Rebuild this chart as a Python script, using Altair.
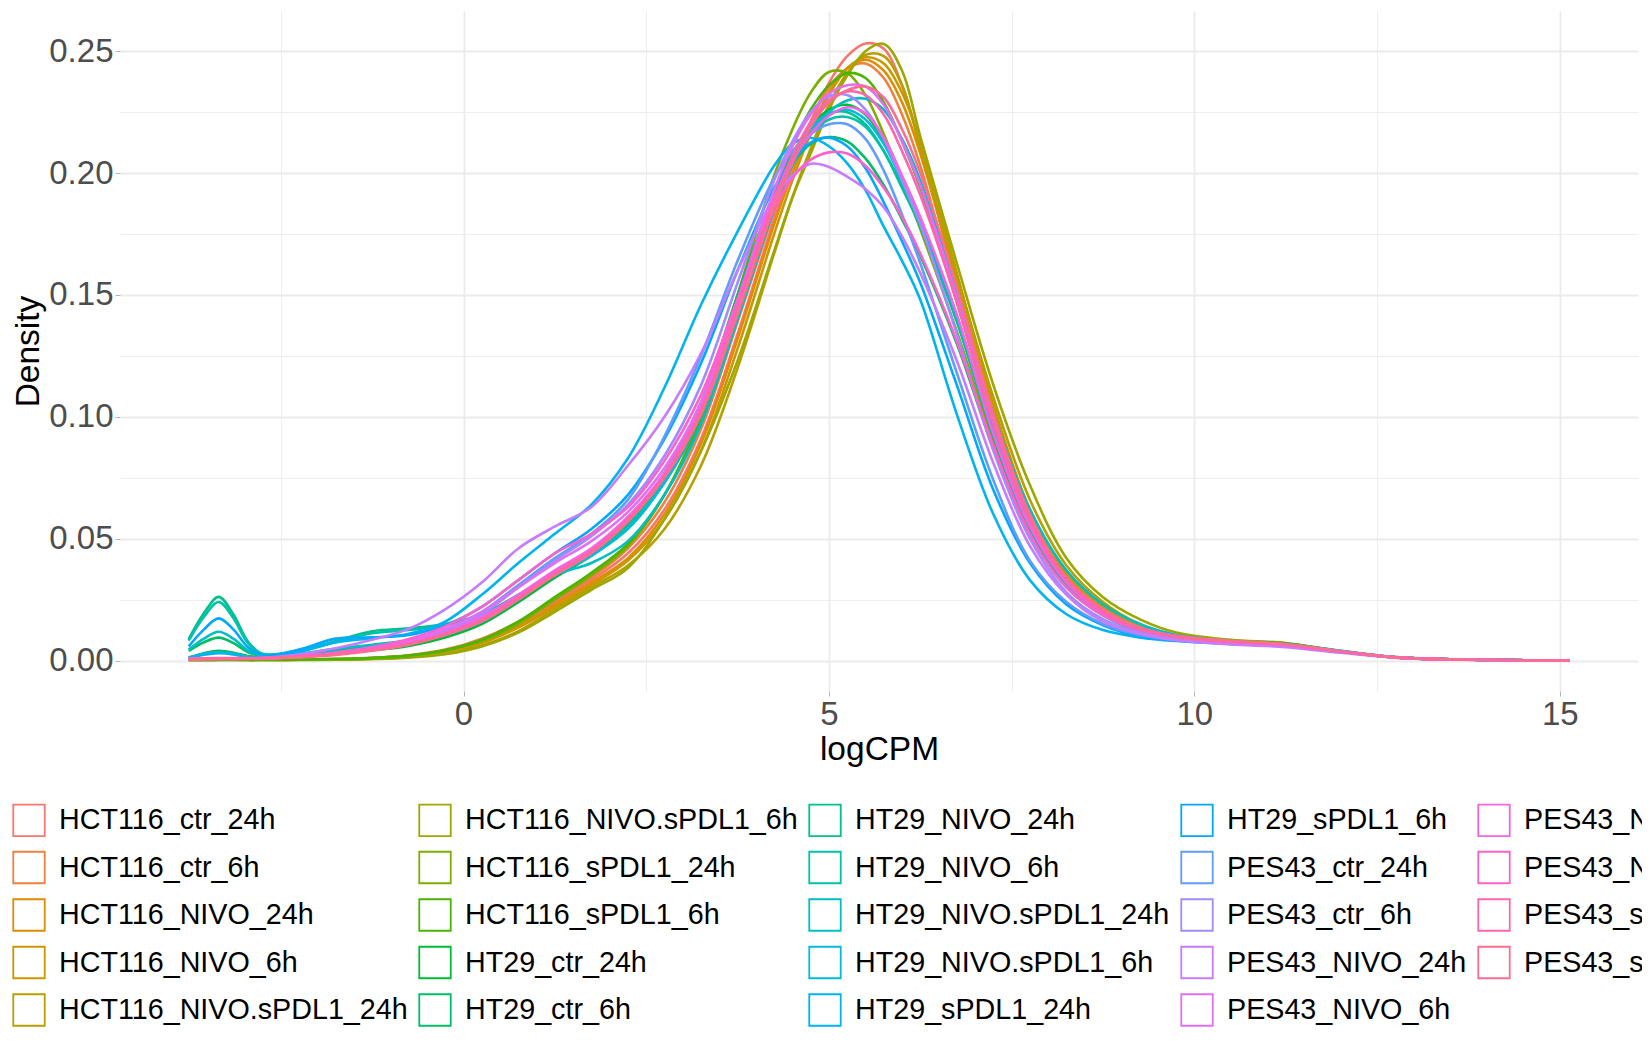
import math
import altair as alt
import pandas as pd

# ---------------- data ----------------
LOGCPM = [-3.76, -3.55, -3.35, -3.15, -2.95, -2.75, -2.25, -1.75, -1.25, -0.75,
          -0.25, 0.25, 0.75, 1.25, 1.75, 2.25, 2.75, 3.25, 3.75, 4.25,
          4.5, 4.75, 5.0, 5.25, 5.5, 5.75, 6.0, 6.25, 6.75, 7.25,
          7.75, 8.25, 8.75, 9.25, 9.75, 10.5, 11.25, 12.0, 12.75, 13.5, 15.13]

SAMPLES = ["HCT116_ctr_24h", "HCT116_ctr_6h", "HCT116_NIVO_24h", "HCT116_NIVO_6h",
           "HCT116_NIVO.sPDL1_24h", "HCT116_NIVO.sPDL1_6h", "HCT116_sPDL1_24h", "HCT116_sPDL1_6h",
           "HT29_ctr_24h", "HT29_ctr_6h", "HT29_NIVO_24h", "HT29_NIVO_6h",
           "HT29_NIVO.sPDL1_24h", "HT29_NIVO.sPDL1_6h", "HT29_sPDL1_24h", "HT29_sPDL1_6h",
           "PES43_ctr_24h", "PES43_ctr_6h", "PES43_NIVO_24h", "PES43_NIVO_6h",
           "PES43_NIVO.sPDL1_24h", "PES43_NIVO.sPDL1_6h", "PES43_sPDL1_24h", "PES43_sPDL1_6h"]

HCT116_ctr_24h = [0.0003, 0.0004, 0.0004, 0.0004, 0.0003, 0.0003, 0.0004, 0.0006, 0.0010, 0.0020,
                  0.0040, 0.0080, 0.0150, 0.0240, 0.0330, 0.0440, 0.0620, 0.0910, 0.1340, 0.1810,
                  0.2030, 0.2210, 0.2370, 0.2480, 0.2532, 0.2510, 0.2360, 0.2110, 0.1530, 0.1000,
                  0.0580, 0.0330, 0.0200, 0.0130, 0.0095, 0.0075, 0.0066, 0.0036, 0.0013, 0.0005, 0.0]
HCT116_ctr_6h = [0.0003, 0.0003, 0.0004, 0.0004, 0.0003, 0.0003, 0.0004, 0.0006, 0.0011, 0.0022,
                 0.0045, 0.0090, 0.0160, 0.0250, 0.0340, 0.0460, 0.0650, 0.0950, 0.1390, 0.1840,
                 0.2040, 0.2210, 0.2350, 0.2430, 0.2450, 0.2390, 0.2240, 0.2030, 0.1490, 0.0970,
                 0.0570, 0.0330, 0.0200, 0.0130, 0.0095, 0.0076, 0.0066, 0.0036, 0.0013, 0.0005, 0.0]
HCT116_NIVO_24h = [0.0002, 0.0003, 0.0003, 0.0003, 0.0003, 0.0003, 0.0003, 0.0005, 0.0009, 0.0018,
                   0.0038, 0.0075, 0.0140, 0.0230, 0.0320, 0.0420, 0.0600, 0.0890, 0.1320, 0.1790,
                   0.2000, 0.2180, 0.2330, 0.2430, 0.2465, 0.2420, 0.2290, 0.2080, 0.1550, 0.1020,
                   0.0600, 0.0350, 0.0210, 0.0135, 0.0098, 0.0078, 0.0068, 0.0037, 0.0013, 0.0005, 0.0]
HCT116_NIVO_6h = [0.0002, 0.0002, 0.0003, 0.0003, 0.0002, 0.0002, 0.0003, 0.0005, 0.0009, 0.0017,
                  0.0036, 0.0072, 0.0135, 0.0220, 0.0310, 0.0410, 0.0580, 0.0860, 0.1280, 0.1750,
                  0.1970, 0.2160, 0.2320, 0.2430, 0.2475, 0.2450, 0.2330, 0.2130, 0.1590, 0.1050,
                  0.0620, 0.0360, 0.0220, 0.0140, 0.0100, 0.0078, 0.0068, 0.0037, 0.0013, 0.0005, 0.0]
HCT116_NIVO_sPDL1_24h = [0.0002, 0.0002, 0.0002, 0.0002, 0.0002, 0.0002, 0.0003, 0.0004, 0.0007, 0.0014,
                         0.0030, 0.0062, 0.0120, 0.0210, 0.0300, 0.0390, 0.0540, 0.0800, 0.1200, 0.1670,
                         0.1900, 0.2100, 0.2280, 0.2410, 0.2485, 0.2480, 0.2360, 0.2100, 0.1580, 0.1080,
                         0.0660, 0.0390, 0.0240, 0.0150, 0.0105, 0.0080, 0.0070, 0.0038, 0.0013, 0.0005, 0.0]
HCT116_NIVO_sPDL1_6h = [0.0001, 0.0001, 0.0002, 0.0002, 0.0002, 0.0002, 0.0002, 0.0003, 0.0006, 0.0012,
                        0.0026, 0.0058, 0.0115, 0.0200, 0.0290, 0.0380, 0.0580, 0.0860, 0.1230, 0.1680,
                        0.1900, 0.2080, 0.2260, 0.2400, 0.2500, 0.2530, 0.2420, 0.2150, 0.1630, 0.1130,
                        0.0720, 0.0420, 0.0260, 0.0170, 0.0115, 0.0085, 0.0072, 0.0039, 0.0014, 0.0005, 0.0]
HCT116_sPDL1_24h = [0.0003, 0.0003, 0.0004, 0.0004, 0.0003, 0.0003, 0.0004, 0.0006, 0.0010, 0.0020,
                    0.0042, 0.0080, 0.0150, 0.0250, 0.0350, 0.0470, 0.0680, 0.1010, 0.1500, 0.1990,
                    0.2180, 0.2330, 0.2415, 0.2410, 0.2320, 0.2160, 0.1970, 0.1770, 0.1350, 0.0900,
                    0.0540, 0.0320, 0.0200, 0.0130, 0.0098, 0.0078, 0.0070, 0.0037, 0.0013, 0.0005, 0.0]
HCT116_sPDL1_6h = [0.0003, 0.0003, 0.0004, 0.0004, 0.0003, 0.0003, 0.0004, 0.0006, 0.0010, 0.0020,
                   0.0042, 0.0085, 0.0160, 0.0260, 0.0360, 0.0480, 0.0680, 0.0990, 0.1450, 0.1920,
                   0.2110, 0.2260, 0.2360, 0.2410, 0.2390, 0.2290, 0.2130, 0.1940, 0.1470, 0.0970,
                   0.0570, 0.0330, 0.0200, 0.0130, 0.0097, 0.0077, 0.0070, 0.0037, 0.0013, 0.0005, 0.0]
HT29_ctr_24h = [0.0012, 0.0030, 0.0040, 0.0032, 0.0018, 0.0012, 0.0018, 0.0030, 0.0042, 0.0060,
                0.0095, 0.0150, 0.0240, 0.0340, 0.0430, 0.0550, 0.0730, 0.1010, 0.1460, 0.1900,
                0.2070, 0.2190, 0.2260, 0.2280, 0.2240, 0.2130, 0.1970, 0.1800, 0.1400, 0.0920,
                0.0540, 0.0310, 0.0190, 0.0125, 0.0093, 0.0072, 0.0062, 0.0038, 0.0013, 0.0005, 0.0]
HT29_ctr_6h = [0.0040, 0.0075, 0.0094, 0.0072, 0.0035, 0.0018, 0.0025, 0.0042, 0.0058, 0.0075,
               0.0110, 0.0170, 0.0260, 0.0360, 0.0450, 0.0580, 0.0770, 0.1060, 0.1500, 0.1910,
               0.2040, 0.2120, 0.2148, 0.2130, 0.2060, 0.1950, 0.1810, 0.1660, 0.1300, 0.0870,
               0.0520, 0.0300, 0.0185, 0.0120, 0.0090, 0.0070, 0.0060, 0.0037, 0.0013, 0.0005, 0.0]
HT29_NIVO_24h = [0.0088, 0.0195, 0.0261, 0.0190, 0.0078, 0.0028, 0.0040, 0.0080, 0.0120, 0.0132,
                 0.0150, 0.0190, 0.0270, 0.0360, 0.0440, 0.0560, 0.0750, 0.1030, 0.1480, 0.1920,
                 0.2080, 0.2190, 0.2245, 0.2250, 0.2200, 0.2090, 0.1940, 0.1780, 0.1390, 0.0920,
                 0.0540, 0.0310, 0.0190, 0.0125, 0.0093, 0.0072, 0.0064, 0.0038, 0.0013, 0.0005, 0.0]
HT29_NIVO_6h = [0.0082, 0.0180, 0.0240, 0.0175, 0.0072, 0.0026, 0.0038, 0.0075, 0.0112, 0.0125,
                0.0145, 0.0185, 0.0260, 0.0350, 0.0430, 0.0550, 0.0740, 0.1020, 0.1460, 0.1890,
                0.2050, 0.2160, 0.2220, 0.2230, 0.2190, 0.2090, 0.1950, 0.1790, 0.1400, 0.0930,
                0.0550, 0.0320, 0.0195, 0.0130, 0.0096, 0.0075, 0.0066, 0.0039, 0.0013, 0.0005, 0.0]
HT29_NIVO_sPDL1_24h = [0.0045, 0.0090, 0.0118, 0.0090, 0.0042, 0.0020, 0.0028, 0.0048, 0.0065, 0.0082,
                       0.0110, 0.0160, 0.0250, 0.0350, 0.0400, 0.0490, 0.0680, 0.0970, 0.1400, 0.1850,
                       0.2030, 0.2160, 0.2250, 0.2298, 0.2305, 0.2260, 0.2140, 0.1970, 0.1510, 0.1010,
                       0.0620, 0.0370, 0.0230, 0.0150, 0.0105, 0.0078, 0.0068, 0.0040, 0.0014, 0.0005, 0.0]
HT29_NIVO_sPDL1_6h = [0.0012, 0.0028, 0.0035, 0.0028, 0.0015, 0.0010, 0.0018, 0.0035, 0.0055, 0.0075,
                      0.0105, 0.0160, 0.0250, 0.0350, 0.0430, 0.0540, 0.0730, 0.1010, 0.1460, 0.1900,
                      0.2060, 0.2180, 0.2240, 0.2260, 0.2220, 0.2120, 0.1970, 0.1810, 0.1410, 0.0940,
                      0.0560, 0.0320, 0.0195, 0.0128, 0.0095, 0.0073, 0.0066, 0.0039, 0.0013, 0.0005, 0.0]
HT29_sPDL1_24h = [0.0010, 0.0024, 0.0030, 0.0025, 0.0015, 0.0012, 0.0035, 0.0075, 0.0092, 0.0110,
                  0.0160, 0.0270, 0.0400, 0.0520, 0.0640, 0.0830, 0.1120, 0.1460, 0.1760, 0.2030,
                  0.2120, 0.2145, 0.2110, 0.2040, 0.1930, 0.1780, 0.1640, 0.1480, 0.1010, 0.0600,
                  0.0330, 0.0190, 0.0125, 0.0095, 0.0080, 0.0068, 0.0060, 0.0036, 0.0013, 0.0005, 0.0]
HT29_sPDL1_6h = [0.0058, 0.0128, 0.0173, 0.0128, 0.0055, 0.0022, 0.0045, 0.0090, 0.0095, 0.0105,
                 0.0145, 0.0220, 0.0330, 0.0440, 0.0540, 0.0680, 0.0910, 0.1220, 0.1600, 0.1940,
                 0.2050, 0.2125, 0.2145, 0.2110, 0.2020, 0.1880, 0.1720, 0.1550, 0.1130, 0.0700,
                 0.0400, 0.0230, 0.0145, 0.0100, 0.0082, 0.0068, 0.0060, 0.0036, 0.0013, 0.0005, 0.0]
PES43_ctr_24h = [0.0006, 0.0007, 0.0008, 0.0008, 0.0008, 0.0009, 0.0015, 0.0028, 0.0048, 0.0078,
                 0.0125, 0.0200, 0.0310, 0.0420, 0.0520, 0.0660, 0.0920, 0.1250, 0.1640, 0.1980,
                 0.2090, 0.2160, 0.2200, 0.2200, 0.2140, 0.2010, 0.1830, 0.1630, 0.1180, 0.0740,
                 0.0410, 0.0240, 0.0150, 0.0105, 0.0085, 0.0068, 0.0058, 0.0035, 0.0012, 0.0004, 0.0]
PES43_ctr_6h = [0.0006, 0.0007, 0.0008, 0.0008, 0.0008, 0.0009, 0.0015, 0.0027, 0.0046, 0.0075,
                0.0120, 0.0190, 0.0300, 0.0410, 0.0510, 0.0640, 0.0840, 0.1130, 0.1550, 0.1970,
                0.2130, 0.2250, 0.2315, 0.2320, 0.2260, 0.2140, 0.1970, 0.1790, 0.1340, 0.0860,
                0.0500, 0.0280, 0.0170, 0.0115, 0.0088, 0.0070, 0.0058, 0.0035, 0.0012, 0.0004, 0.0]
PES43_NIVO_24h = [0.0005, 0.0006, 0.0007, 0.0007, 0.0008, 0.0010, 0.0025, 0.0050, 0.0085, 0.0130,
                  0.0210, 0.0320, 0.0460, 0.0550, 0.0630, 0.0800, 0.1000, 0.1260, 0.1600, 0.1900,
                  0.1990, 0.2038, 0.2025, 0.1985, 0.1935, 0.1860, 0.1740, 0.1590, 0.1230, 0.0810,
                  0.0470, 0.0270, 0.0160, 0.0110, 0.0083, 0.0066, 0.0055, 0.0032, 0.0012, 0.0004, 0.0]
PES43_NIVO_6h = [0.0006, 0.0007, 0.0008, 0.0008, 0.0008, 0.0009, 0.0016, 0.0030, 0.0050, 0.0080,
                 0.0130, 0.0200, 0.0300, 0.0400, 0.0490, 0.0610, 0.0790, 0.1060, 0.1480, 0.1930,
                 0.2110, 0.2240, 0.2325, 0.2360, 0.2355, 0.2280, 0.2130, 0.1950, 0.1490, 0.0980,
                 0.0570, 0.0330, 0.0200, 0.0135, 0.0102, 0.0080, 0.0066, 0.0038, 0.0013, 0.0005, 0.0]
PES43_NIVO_sPDL1_24h = [0.0007, 0.0008, 0.0009, 0.0009, 0.0009, 0.0010, 0.0017, 0.0028, 0.0045, 0.0072,
                        0.0115, 0.0180, 0.0270, 0.0370, 0.0460, 0.0590, 0.0770, 0.1040, 0.1480, 0.1900,
                        0.2050, 0.2160, 0.2235, 0.2270, 0.2245, 0.2145, 0.1990, 0.1820, 0.1420, 0.0930,
                        0.0550, 0.0320, 0.0195, 0.0130, 0.0098, 0.0078, 0.0064, 0.0037, 0.0013, 0.0005, 0.0]
PES43_NIVO_sPDL1_6h = [0.0008, 0.0009, 0.0010, 0.0010, 0.0010, 0.0011, 0.0019, 0.0033, 0.0055, 0.0088,
                       0.0140, 0.0220, 0.0330, 0.0440, 0.0520, 0.0630, 0.0820, 0.1090, 0.1480, 0.1850,
                       0.1980, 0.2055, 0.2085, 0.2080, 0.2030, 0.1940, 0.1820, 0.1670, 0.1310, 0.0880,
                       0.0520, 0.0300, 0.0185, 0.0125, 0.0096, 0.0076, 0.0063, 0.0037, 0.0013, 0.0005, 0.0]
PES43_sPDL1_24h = [0.0006, 0.0007, 0.0008, 0.0008, 0.0008, 0.0009, 0.0015, 0.0026, 0.0043, 0.0070,
                   0.0110, 0.0170, 0.0260, 0.0360, 0.0450, 0.0580, 0.0760, 0.1030, 0.1450, 0.1890,
                   0.2070, 0.2210, 0.2300, 0.2335, 0.2320, 0.2240, 0.2090, 0.1910, 0.1470, 0.0970,
                   0.0570, 0.0330, 0.0200, 0.0132, 0.0099, 0.0078, 0.0066, 0.0038, 0.0013, 0.0005, 0.0]
PES43_sPDL1_6h = [0.0005, 0.0006, 0.0007, 0.0007, 0.0007, 0.0008, 0.0013, 0.0023, 0.0040, 0.0065,
                  0.0105, 0.0160, 0.0250, 0.0350, 0.0440, 0.0570, 0.0750, 0.1010, 0.1420, 0.1860,
                  0.2040, 0.2190, 0.2290, 0.2340, 0.2355, 0.2310, 0.2180, 0.2000, 0.1530, 0.1010,
                  0.0600, 0.0340, 0.0210, 0.0135, 0.0100, 0.0079, 0.0067, 0.0038, 0.0013, 0.0005, 0.0]

SERIES = [HCT116_ctr_24h, HCT116_ctr_6h, HCT116_NIVO_24h, HCT116_NIVO_6h,
          HCT116_NIVO_sPDL1_24h, HCT116_NIVO_sPDL1_6h, HCT116_sPDL1_24h, HCT116_sPDL1_6h,
          HT29_ctr_24h, HT29_ctr_6h, HT29_NIVO_24h, HT29_NIVO_6h,
          HT29_NIVO_sPDL1_24h, HT29_NIVO_sPDL1_6h, HT29_sPDL1_24h, HT29_sPDL1_6h,
          PES43_ctr_24h, PES43_ctr_6h, PES43_NIVO_24h, PES43_NIVO_6h,
          PES43_NIVO_sPDL1_24h, PES43_NIVO_sPDL1_6h, PES43_sPDL1_24h, PES43_sPDL1_6h]

X_BREAKS = [-2.5, 0, 2.5, 5, 7.5, 10, 12.5, 15]
Y_BREAKS = [0.0, 0.025, 0.05, 0.075, 0.1, 0.125, 0.15, 0.175, 0.2, 0.225, 0.25]


# ---------------- ggplot-style hue palette (hcl, c=100, l=65) ----------------
def hcl_hex(h, c=100.0, l=65.0):
    WX, WY, WZ = 95.047, 100.000, 108.883
    hr = math.radians(h)
    U, V = c * math.cos(hr), c * math.sin(hr)
    Y = WY * (((l + 16) / 116) ** 3 if l > 7.999592 else l / 903.3)
    t = WX + WY + WZ
    xn, yn = WX / t, WY / t
    uN = 2 * xn / (6 * yn - xn + 1.5)
    vN = 4.5 * yn / (6 * yn - xn + 1.5)
    u = U / (13 * l) + uN
    v = V / (13 * l) + vN
    X = 9.0 * Y * u / (4 * v)
    Z = -X / 3 - 5 * Y + 3 * Y / v

    def g(a):
        return 1.055 * a ** (1 / 2.4) - 0.055 if a > 0.00304 else 12.92 * a

    r = g((3.240479 * X - 1.537150 * Y - 0.498535 * Z) / WY)
    gg = g((-0.969256 * X + 1.875992 * Y + 0.041556 * Z) / WY)
    b = g((0.055648 * X - 0.204043 * Y + 1.057311 * Z) / WY)
    vals = [min(255, max(0, int(round(255 * max(0.0, min(1.0, q)))))) for q in (r, gg, b)]
    return "#%02X%02X%02X" % tuple(vals)


n = len(SAMPLES)
COLORS = [hcl_hex(15 + 360.0 / n * i) for i in range(n)]

rows = []
for k, (name, vals) in enumerate(zip(SAMPLES, SERIES)):
    for x, y in zip(LOGCPM, vals):
        rows.append({"sample": name, "k": k, "logCPM": x, "Density": y})
df = pd.DataFrame(rows)

FONT = "Liberation Sans"
GRID = "#EBEBEB"

x_axis = alt.Axis(
    values=X_BREAKS,
    labelExpr="datum.value % 5 === 0 ? format(datum.value, 'd') : ''",
    grid=True, gridColor=GRID,
    gridWidth={"condition": {"test": "datum.value % 5 !== 0", "value": 0.9}, "value": 1.8},
    domain=False,
    ticks=True, tickSize=5, tickColor="#B5B5B5", tickWidth=1,
    tickOpacity={"condition": {"test": "datum.value % 5 !== 0", "value": 0}, "value": 1},
    labelFont=FONT, labelFontSize=33, labelColor="#4D4D4D", labelPadding=2,
    labelOverlap=False, labelFlush=False,
    title="logCPM", titleFont=FONT, titleFontSize=33.5, titleFontWeight="normal",
    titleColor="black", titleX=759, titleY=42, titleBaseline="top", titleAlign="center",
)
y_axis = alt.Axis(
    values=Y_BREAKS,
    labelExpr="round(datum.value * 1000) % 50 === 0 ? format(datum.value, '.2f') : ''",
    grid=True, gridColor=GRID,
    gridWidth={"condition": {"test": "round(datum.value * 1000) % 50 !== 0", "value": 0.9}, "value": 1.8},
    domain=False,
    ticks=True, tickSize=5, tickColor="#B5B5B5", tickWidth=1,
    tickOpacity={"condition": {"test": "round(datum.value * 1000) % 50 !== 0", "value": 0}, "value": 1},
    labelFont=FONT, labelFontSize=33, labelColor="#4D4D4D", labelPadding=2,
    labelOverlap=False, labelFlush=False,
    title="Density", titleFont=FONT, titleFontSize=33.5, titleFontWeight="normal",
    titleColor="black", titleX=-108, titleY=340, titleAngle=270,
    titleBaseline="top", titleAlign="center",
)

# Vega fills a vertical legend column by column, like ggplot does
legend = alt.Legend(
    title=None, orient="none", legendX=-108, legendY=792, direction="vertical",
    columns=5, symbolType="square", symbolSize=990, symbolStrokeWidth=1.8,
    symbolFillColor="transparent",
    labelFont=FONT, labelFontSize=28.7, labelColor="black", labelLimit=1000,
    labelOffset=13, rowPadding=7.5, columnPadding=7, padding=0, offset=0,
)

chart = alt.Chart(df).mark_line(interpolate="catmull-rom", strokeWidth=2.6).encode(
    x=alt.X("logCPM:Q", scale=alt.Scale(domain=[-4.70, 16.07], nice=False, zero=False), axis=x_axis),
    y=alt.Y("Density:Q", scale=alt.Scale(domain=[-0.0125, 0.2665], nice=False, zero=False), axis=y_axis),
    color=alt.Color("sample:N", scale=alt.Scale(domain=SAMPLES, range=COLORS), legend=legend),
    order=alt.Order("logCPM:Q"),
    detail="k:N",
).properties(
    width=1518, height=680,
    autosize=alt.AutoSizeParams(type="none"),
    padding={"left": 112, "top": 3, "right": 4, "bottom": 342},
    background="white",
).configure_view(stroke=None)

chart.save("out.html", embed_options={"renderer": "svg", "actions": False})
